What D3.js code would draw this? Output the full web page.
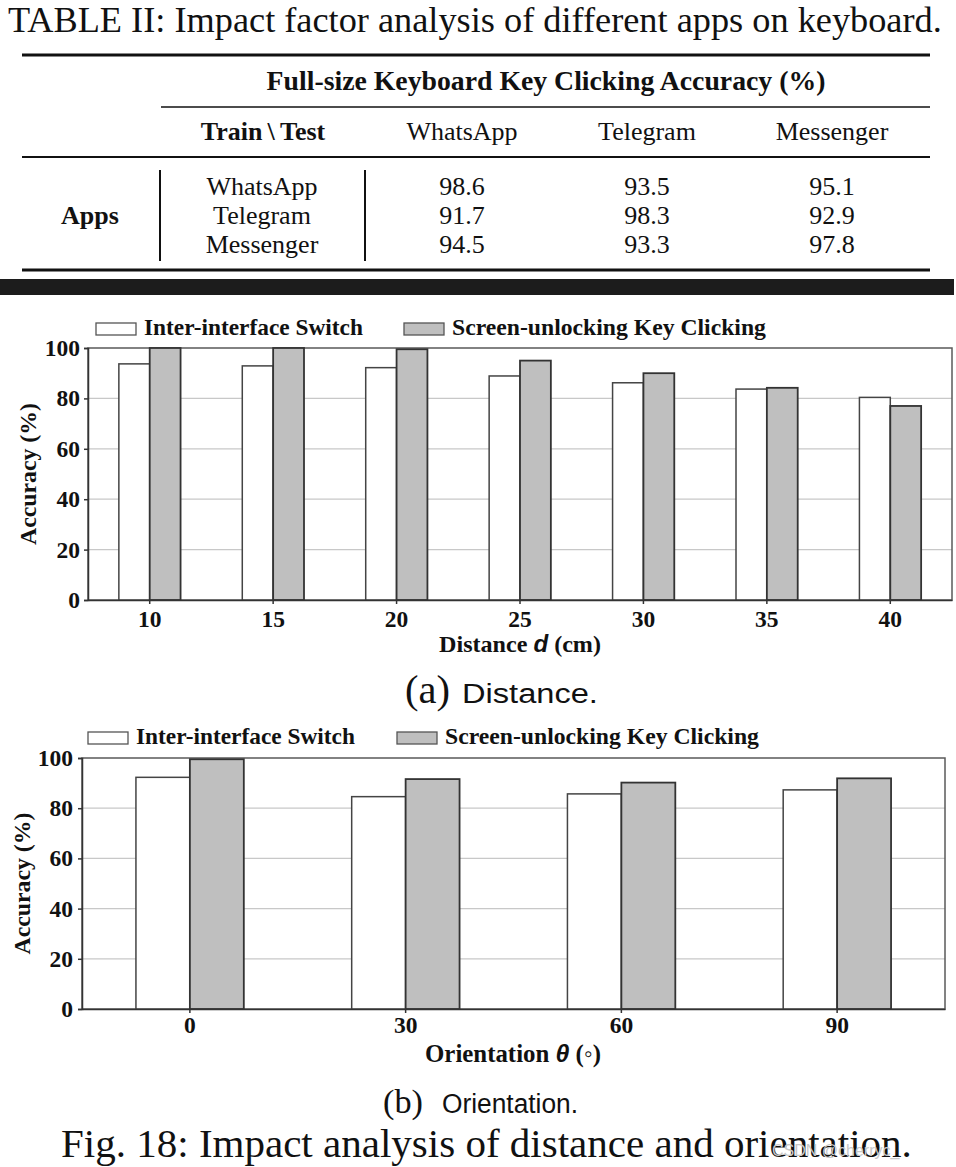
<!DOCTYPE html>
<html>
<head>
<meta charset="utf-8">
<script src="https://cdn.jsdelivr.net/npm/d3@7"></script>
<style>
body { margin: 0; background: #fff; }
svg { display: block; }
</style>
</head>
<body>
<svg id="canvas" width="956" height="1167"></svg>
<script>
// table values
const tableTitle = "TABLE II: Impact factor analysis of different apps on keyboard."
const tableHeading = "Full-size Keyboard Key Clicking Accuracy (%)"
const testApps = ["WhatsApp", "Telegram", "Messenger"]
const trainApps = ["WhatsApp", "Telegram", "Messenger"]
const trainWhatsApp = [98.6, 93.5, 95.1]
const trainTelegram = [91.7, 98.3, 92.9]
const trainMessenger = [94.5, 93.3, 97.8]

// bar chart values
const seriesNames = ["Inter-interface Switch", "Screen-unlocking Key Clicking"]
const yTicks = [0, 20, 40, 60, 80, 100]

const distances = [10, 15, 20, 25, 30, 35, 40]
const distanceSwitch = [93.7, 92.9, 92.2, 88.9, 86.2, 83.7, 80.4]
const distanceUnlock = [100, 100, 99.5, 95.0, 90.0, 84.2, 77.0]

const orientations = [0, 30, 60, 90]
const orientationSwitch = [92.3, 84.6, 85.7, 87.3]
const orientationUnlock = [99.5, 91.6, 90.2, 91.9]

const serif = "'Liberation Serif', 'Times New Roman', serif"
const sans = "'Liberation Sans', Arial, sans-serif"
const ink = "#111"

let svg = d3.select("#canvas")

// scale the font so the text's natural width matches the reference
const fitWidth = (t, target) => {
    let len = t.node().getComputedTextLength()
    let size = +t.attr("font-size")
    if (len > 0) t.attr("font-size", (size * target / len).toFixed(2))
    return t
}

// keep the font size, squeeze horizontally to the reference width
const squeezeWidth = (t, target) => {
    let len = t.node().getComputedTextLength()
    let x = +t.attr("x"), y = +t.attr("y")
    t.attr("x", 0).attr("y", 0)
        .attr("transform", "translate(" + x + "," + y + ") scale(" + (target / len).toFixed(3) + ",1)")
    return t
}

const addText = (x, y, str, size, opts = {}) => {
    let t = svg.append("text")
        .attr("x", x)
        .attr("y", y)
        .attr("font-family", opts.family || serif)
        .attr("font-size", size)
        .attr("font-weight", opts.weight || "normal")
        .attr("text-anchor", opts.anchor || "middle")
        .attr("fill", opts.fill || ink)
        .text(str)
    if (opts.width) fitWidth(t, opts.width)
    if (opts.squeeze) squeezeWidth(t, opts.squeeze)
    return t
}

const drawTable = () => {
    addText(8, 32, tableTitle, 30, { anchor: "start", width: 934 })

    const rules = [
        { y: 55, x1: 22, w: 3 },
        { y: 107, x1: 161, w: 1.5 },
        { y: 157, x1: 22, w: 2 },
        { y: 270, x1: 22, w: 3 }
    ]
    svg.selectAll(".rule")
        .data(rules)
        .enter()
        .append("line")
        .attr("class", "rule")
        .attr("x1", d => d.x1)
        .attr("x2", 930)
        .attr("y1", d => d.y)
        .attr("y2", d => d.y)
        .attr("stroke", ink)
        .attr("stroke-width", d => d.w)

    // vertical separators
    ;[160, 365].forEach(vx => {
        svg.append("line")
            .attr("x1", vx).attr("x2", vx)
            .attr("y1", 170).attr("y2", 261)
            .attr("stroke", ink)
            .attr("stroke-width", 2)
    })

    addText(546, 90, tableHeading, 26, { weight: "bold", width: 559 })
    addText(263, 140, "Train\u2009\\\u2009Test", 26, { weight: "bold" })

    let colX = d3.scalePoint().domain(testApps).range([462, 832])
    let rowY = d3.scalePoint().domain(trainApps).range([195, 253])

    testApps.forEach(app => addText(colX(app), 140, app, 26))
    addText(90, 224, "Apps", 26, { weight: "bold" })

    const rows = [trainWhatsApp, trainTelegram, trainMessenger]
    trainApps.forEach((app, i) => {
        addText(262, rowY(app), app, 26)
        rows[i].forEach((v, j) => addText(colX(testApps[j]), rowY(app), v.toFixed(1), 26))
    })

    svg.append("rect")
        .attr("x", 0).attr("y", 279)
        .attr("width", 954).attr("height", 16)
        .attr("fill", "#1c1c1c")
}

const drawChart = (cfg) => {
    let x = d3.scaleBand()
        .domain(cfg.cats)
        .range([cfg.left, cfg.right])
    let y = d3.scaleLinear()
        .domain([0, 100])
        .range([cfg.bottom, cfg.top])

    let g = svg.append("g")

    // gridlines
    g.selectAll(".grid")
        .data(yTicks.filter(t => t > 0 && t < 100))
        .enter()
        .append("line")
        .attr("x1", cfg.left).attr("x2", cfg.right)
        .attr("y1", d => y(d)).attr("y2", d => y(d))
        .attr("stroke", "#c8c8c8")
        .attr("stroke-width", 1.2)

    g.append("rect")
        .attr("x", cfg.left).attr("y", cfg.top)
        .attr("width", cfg.right - cfg.left)
        .attr("height", cfg.bottom - cfg.top)
        .attr("fill", "none")
        .attr("stroke", "#5a5a5a")
        .attr("stroke-width", 1.5)

    const barW = x.bandwidth() / 4
    const center = d => x(d) + x.bandwidth() / 2

    g.selectAll(".bar-switch")
        .data(cfg.cats)
        .enter()
        .append("rect")
        .attr("x", d => center(d) - barW)
        .attr("y", (d, i) => y(cfg.s1[i]))
        .attr("width", barW)
        .attr("height", (d, i) => cfg.bottom - y(cfg.s1[i]))
        .attr("fill", "#fff")
        .attr("stroke", "#444")
        .attr("stroke-width", 1.5)

    g.selectAll(".bar-unlock")
        .data(cfg.cats)
        .enter()
        .append("rect")
        .attr("x", d => center(d))
        .attr("y", (d, i) => y(cfg.s2[i]))
        .attr("width", barW)
        .attr("height", (d, i) => cfg.bottom - y(cfg.s2[i]))
        .attr("fill", "#bfbfbf")
        .attr("stroke", "#333")
        .attr("stroke-width", 1.8)

    let yAxis = d3.axisLeft(y)
        .tickValues(yTicks)
        .tickSize(4)
        .tickPadding(cfg.yPad)
    let ya = g.append("g")
        .attr("transform", "translate(" + cfg.left + ",0)")
        .call(yAxis)
    ya.select(".domain").attr("stroke", "#333").attr("stroke-width", 1.5)
    ya.selectAll(".tick line").attr("stroke", "#333").attr("stroke-width", 1.5)
    ya.selectAll("text")
        .attr("font-family", serif)
        .attr("font-size", 23.5)
        .attr("font-weight", "bold")
        .attr("fill", ink)

    let xAxis = d3.axisBottom(x)
        .tickSize(4)
        .tickSizeOuter(0)
    let xa = g.append("g")
        .attr("transform", "translate(0," + cfg.bottom + ")")
        .call(xAxis)
    xa.select(".domain").attr("stroke", "#333").attr("stroke-width", 1.5)
    xa.selectAll(".tick line").attr("stroke", "#333").attr("stroke-width", 1.5)
    xa.selectAll("text")
        .attr("y", cfg.xLabelY)
        .attr("dy", null)
        .attr("font-family", serif)
        .attr("font-size", 23.5)
        .attr("font-weight", "bold")
        .attr("fill", ink)

    // legend
    const legendColors = ["#fff", "#bfbfbf"]
    seriesNames.forEach((name, i) => {
        svg.append("rect")
            .attr("x", cfg.legendX[i]).attr("y", cfg.legendY - 12)
            .attr("width", 40).attr("height", 12)
            .attr("fill", legendColors[i])
            .attr("stroke", "#555")
            .attr("stroke-width", 1.3)
        addText(cfg.legendX[i] + 48, cfg.legendY, name, 22,
            { weight: "bold", anchor: "start", width: cfg.legendLen[i] })
    })

    // y axis title
    let yt = svg.append("text")
        .attr("transform", "translate(" + cfg.yTitleX + "," + ((cfg.top + cfg.bottom) / 2) + ") rotate(-90)")
        .attr("text-anchor", "middle")
        .attr("font-family", serif)
        .attr("font-size", 21)
        .attr("font-weight", "bold")
        .attr("fill", ink)
        .text("Accuracy (%)")
    fitWidth(yt, 142)

    // x axis title
    let xt = svg.append("text")
        .attr("x", cfg.xTitle[0])
        .attr("y", cfg.xTitle[1])
        .attr("text-anchor", "middle")
        .attr("font-family", serif)
        .attr("font-size", 23)
        .attr("font-weight", "bold")
        .attr("fill", ink)
    xt.append("tspan").text(cfg.xName + " ")
    xt.append("tspan")
        .attr("font-family", sans)
        .attr("font-style", "italic")
        .text(cfg.xSymbol)
    xt.append("tspan").text(" " + cfg.xUnit)
    fitWidth(xt, cfg.xTitleLen)

    // sub caption
    addText(cfg.capX[0], cfg.capY, cfg.capTag, 34, { anchor: "start", width: cfg.capTagLen })
    addText(cfg.capX[1], cfg.capY, cfg.capText, 28,
        { anchor: "start", family: sans, squeeze: 136 })
}

drawTable()

drawChart({
    cats: distances, s1: distanceSwitch, s2: distanceUnlock,
    left: 88, right: 952, top: 348, bottom: 600,
    yPad: 4, xLabelY: 27,
    legendX: [96, 404], legendY: 335, legendLen: [219, 314],
    yTitleX: 36,
    xTitle: [520, 652], xTitleLen: 162, xName: "Distance", xSymbol: "d", xUnit: "(cm)",
    capX: [405, 462], capY: 703, capTag: "(a)", capTagLen: 45, capText: "Distance."
})

drawChart({
    cats: orientations, s1: orientationSwitch, s2: orientationUnlock,
    left: 82, right: 945, top: 758, bottom: 1009,
    yPad: 5, xLabelY: 24,
    legendX: [88, 397], legendY: 744, legendLen: [219, 314],
    yTitleX: 30,
    xTitle: [513, 1062], xTitleLen: 176, xName: "Orientation", xSymbol: "\u03b8", xUnit: "(\u25e6)",
    capX: [383, 442], capY: 1113, capTag: "(b)", capTagLen: 40, capText: "Orientation."
})

addText(61, 1157, "Fig. 18: Impact analysis of distance and orientation.", 34,
    { anchor: "start", width: 851 })
addText(772, 1156, "CSDN @cherryc_", 16, { anchor: "start", family: sans, fill: "#c8c8c8" })
</script>
</body>
</html>
